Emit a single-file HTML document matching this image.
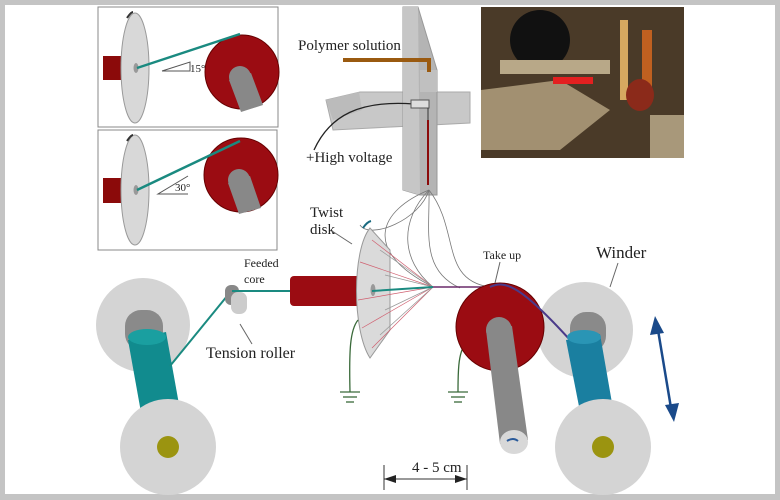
<!DOCTYPE html>
<html><head><style>
html,body{margin:0;padding:0;background:#fff}
svg{display:block}
text{font-family:"Liberation Serif",serif;fill:#222}
</style></head><body>
<svg width="780" height="500" viewBox="0 0 780 500" xmlns="http://www.w3.org/2000/svg">
<rect x="0" y="0" width="780" height="500" fill="#c4c4c4"/>
<rect x="5" y="5" width="770" height="489" fill="#fff"/>

<!-- inset 1 -->
<rect x="98" y="7" width="180" height="120" fill="#fff" stroke="#888"/>
<rect x="103" y="56" width="24" height="24" fill="#8b0a0a"/>
<ellipse cx="135" cy="68" rx="14" ry="55" fill="#d8d8d8" stroke="#999"/>
<ellipse cx="136" cy="68" rx="2.5" ry="5" fill="#999"/>
<circle cx="242" cy="72" r="37" fill="#9b0c12" stroke="#600"/>
<polygon points="229,80 251,73 263,105 241,112" fill="#888"/>
<circle cx="240" cy="77" r="11" fill="#888"/>
<line x1="137" y1="68" x2="240" y2="34" stroke="#1a8a80" stroke-width="2.5"/>
<polyline points="162,71 190,71 190,62 162,71" fill="none" stroke="#555"/>
<text x="190" y="72" font-size="11">15°</text>
<path d="M127 18 q4 -6 6 -6" stroke="#333" stroke-width="2" fill="none"/>

<!-- inset 2 -->
<rect x="98" y="130" width="179" height="120" fill="#fff" stroke="#888"/>
<rect x="103" y="178" width="24" height="25" fill="#8b0a0a"/>
<ellipse cx="135" cy="190" rx="14" ry="55" fill="#d8d8d8" stroke="#999"/>
<ellipse cx="136" cy="190" rx="2.5" ry="5" fill="#999"/>
<circle cx="241" cy="175" r="37" fill="#9b0c12" stroke="#600"/>
<polygon points="228,183 250,176 261,208 239,214" fill="#888"/>
<circle cx="239" cy="180" r="11" fill="#888"/>
<line x1="137" y1="190" x2="240" y2="141" stroke="#1a8a80" stroke-width="2.5"/>
<polyline points="188,194 158,194 188,176" fill="none" stroke="#555"/>
<text x="175" y="191" font-size="11">30°</text>
<path d="M127 141 q4 -6 6 -6" stroke="#333" stroke-width="2" fill="none"/>

<!-- spinneret -->
<polygon points="326,100 360,92 470,92 470,123 333,130" fill="#c8c8c8" stroke="#aaa"/>
<polygon points="359,92 362,110 333,120 326,100" fill="#bbb"/>
<polygon points="403,7 418,7 437,70 437,195 420,195 403,190" fill="#b4b4b4" stroke="#999"/>
<polygon points="403,7 418,7 420,195 403,190" fill="#c6c6c6"/>
<rect x="420" y="70" width="17" height="22" fill="#c0c0c0"/>
<path d="M343 60 H429 V72" stroke="#9a5a10" stroke-width="4" fill="none"/>
<text x="298" y="50" font-size="15">Polymer solution</text>
<path d="M414 104 C360 100 330 115 314 150" stroke="#222" stroke-width="1.3" fill="none"/>
<rect x="411" y="100" width="18" height="8" fill="#ddd" stroke="#555"/>
<text x="306" y="162" font-size="15">+High voltage</text>
<line x1="428" y1="120" x2="428" y2="185" stroke="#8b0a0a" stroke-width="2"/>
<line x1="428" y1="108" x2="428" y2="120" stroke="#333" stroke-width="1"/>

<!-- photo -->
<rect x="481" y="7" width="203" height="151" fill="#4a3a28"/>
<ellipse cx="540" cy="40" rx="30" ry="30" fill="#111"/>
<rect x="500" y="60" width="110" height="14" fill="#b8a888"/>
<polygon points="481,90 560,80 610,110 560,150 481,150" fill="#c8b590" opacity="0.7"/>
<rect x="553" y="77" width="40" height="7" fill="#e32020"/>
<rect x="620" y="20" width="8" height="80" fill="#d6a860"/>
<rect x="642" y="30" width="10" height="70" fill="#c06020"/>
<rect x="650" y="115" width="34" height="43" fill="#a8987a"/>
<ellipse cx="640" cy="95" rx="14" ry="16" fill="#8b2a1a"/>

<!-- fibers from spinneret -->
<g stroke="#777" stroke-width="0.8" fill="none">
<path d="M429 190 C380 210 360 250 433 287"/>
<path d="M429 190 C400 220 400 260 433 287"/>
<path d="M429 190 C430 230 420 270 460 288"/>
<path d="M429 190 C460 230 440 280 490 287"/>
<path d="M429 190 C420 220 370 240 360 225"/>
</g>

<!-- left spool -->
<circle cx="143" cy="325" r="47" fill="#d4d4d4"/>
<rect x="125" y="310" width="38" height="40" rx="16" fill="#8a8a8a"/>
<polygon points="128,340 166,332 180,410 142,418" fill="#118b8e"/>
<ellipse cx="147" cy="337" rx="19" ry="8" fill="#1a9fa0"/>
<circle cx="168" cy="447" r="48" fill="#d4d4d4"/>
<circle cx="168" cy="447" r="11" fill="#9b9410"/>
<line x1="170" y1="366" x2="232" y2="290" stroke="#1a8a80" stroke-width="2"/>
<!-- tension roller -->
<rect x="225" y="285" width="14" height="20" rx="6" fill="#888"/>
<rect x="231" y="292" width="16" height="22" rx="7" fill="#ccc"/>
<line x1="232" y1="291" x2="372" y2="291" stroke="#1a8a80" stroke-width="2"/>
<text x="244" y="267" font-size="12">Feeded</text>
<text x="244" y="283" font-size="12">core</text>
<line x1="240" y1="324" x2="252" y2="344" stroke="#666"/>
<text x="206" y="358" font-size="16">Tension roller</text>

<!-- red cylinder + twist disk -->
<rect x="290" y="276" width="74" height="30" rx="4" fill="#9b0c12"/>
<path d="M370 228 C352 250 352 330 370 358 L390 330 L390 250 Z" fill="#dadada" stroke="#999"/>
<ellipse cx="373" cy="290" rx="2.5" ry="6" fill="#999"/>
<g stroke="#d06070" stroke-width="0.7">
<line x1="433" y1="287" x2="372" y2="240"/><line x1="433" y1="287" x2="360" y2="262"/>
<line x1="433" y1="287" x2="358" y2="300"/><line x1="433" y1="287" x2="362" y2="328"/>
<line x1="433" y1="287" x2="372" y2="348"/></g>
<g stroke="#999" stroke-width="0.7">
<line x1="433" y1="287" x2="380" y2="250"/><line x1="433" y1="287" x2="385" y2="275"/>
<line x1="433" y1="287" x2="385" y2="310"/><line x1="433" y1="287" x2="380" y2="335"/></g>
<line x1="372" y1="291" x2="433" y2="287" stroke="#1a8a80" stroke-width="2"/>
<line x1="433" y1="287" x2="490" y2="287" stroke="#6a2a6a" stroke-width="1.5"/>
<path d="M363 228 q4 -6 8 -7" stroke="#1a6a80" stroke-width="2" fill="none"/>
<text x="310" y="217" font-size="15">Twist</text>
<text x="310" y="234" font-size="15">disk</text>
<line x1="332" y1="231" x2="352" y2="244" stroke="#666"/>

<!-- grounds -->
<g stroke="#3a6a3a" stroke-width="1.3" fill="none">
<path d="M358 320 C350 330 349 350 350 392"/>
<line x1="340" y1="392" x2="360" y2="392"/><line x1="343" y1="397" x2="357" y2="397"/><line x1="346" y1="402" x2="354" y2="402"/>
<path d="M468 340 C458 350 458 370 458 392"/>
<line x1="448" y1="392" x2="468" y2="392"/><line x1="451" y1="397" x2="465" y2="397"/><line x1="454" y1="402" x2="462" y2="402"/>
</g>

<!-- take up -->
<circle cx="585" cy="330" r="48" fill="#d4d4d4"/>
<circle cx="500" cy="327" r="44" fill="#9b0c12" stroke="#600"/>
<polygon points="486,330 512,326 528,440 500,444" fill="#888"/>
<circle cx="499" cy="330" r="13" fill="#888"/>
<ellipse cx="514" cy="442" rx="14" ry="12" fill="#d8d8d8"/>
<path d="M507 441 q6 -4 11 0" stroke="#2a5a9a" stroke-width="2" fill="none"/>
<path d="M490 287 C505 280 520 285 570 340" stroke="#4a3a8a" stroke-width="2" fill="none"/>
<text x="483" y="259" font-size="12">Take up</text>
<line x1="500" y1="262" x2="495" y2="283" stroke="#666"/>

<!-- winder -->
<rect x="570" y="312" width="36" height="40" rx="16" fill="#8a8a8a"/>
<polygon points="566,340 600,334 616,426 584,432" fill="#1a7fa0"/>
<ellipse cx="584" cy="337" rx="17" ry="7" fill="#2a95b5"/>
<circle cx="603" cy="447" r="48" fill="#d4d4d4"/>
<circle cx="603" cy="447" r="11" fill="#9b9410"/>
<text x="596" y="258" font-size="17">Winder</text>
<line x1="618" y1="263" x2="610" y2="287" stroke="#666"/>

<!-- double arrow -->
<line x1="658" y1="330" x2="671" y2="408" stroke="#1a4a8a" stroke-width="2.5"/>
<polygon points="655,316 650,335 664,333" fill="#1a4a8a"/>
<polygon points="674,422 665,405 679,403" fill="#1a4a8a"/>

<!-- dimension -->
<line x1="384" y1="465" x2="384" y2="490" stroke="#333"/>
<line x1="467" y1="465" x2="467" y2="490" stroke="#333"/>
<line x1="384" y1="479" x2="467" y2="479" stroke="#333"/>
<polygon points="384,479 396,475 396,483" fill="#222"/>
<polygon points="467,479 455,475 455,483" fill="#222"/>
<text x="412" y="472" font-size="15">4 - 5 cm</text>
</svg>
</body></html>
